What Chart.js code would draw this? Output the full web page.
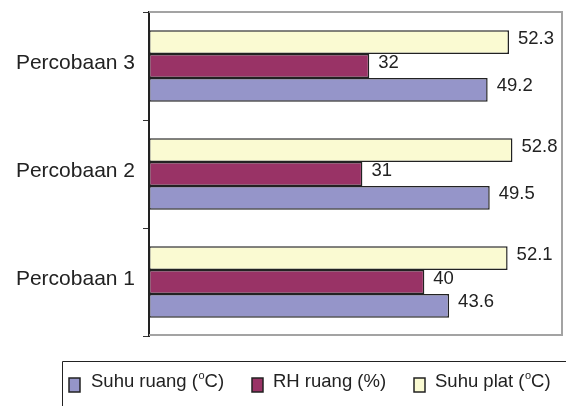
<!DOCTYPE html>
<html>
<head>
<meta charset="utf-8">
<script src="https://cdn.jsdelivr.net/npm/chart.js@4/dist/chart.umd.min.js"></script>
<style>
html,body{margin:0;padding:0;background:#fff;}
#wrap{width:566px;height:406px;position:relative;}
</style>
</head>
<body>
<div id="wrap"><canvas id="c" width="566" height="406"></canvas></div>
<script>
// categories listed top to bottom as shown
const categories = ['Percobaan 3', 'Percobaan 2', 'Percobaan 1'];
const suhuPlat  = [52.3, 52.8, 52.1];
const rhRuang   = [32, 31, 40];
const suhuRuang = [49.2, 49.5, 43.6];
const seriesLabels = ['Suhu plat (°C)', 'RH ruang (%)', 'Suhu ruang (°C)'];
// legend entries: [before superscript, superscript, after]
const legendOrder = [
  ['Suhu ruang (', 'o', 'C)'],
  ['RH ruang (%)', '', ''],
  ['Suhu plat (', 'o', 'C)']
];
const xMin = 0, xMax = 60;

const colRuang = '#9595c9';
const colRH = '#993366';
const colPlat = '#fafad2';
const FONT = "'Liberation Sans', Arial, Helvetica, sans-serif";

const borderPlugin = {
  id: 'plotBorder',
  beforeDatasetsDraw(chart) {
    const a = chart.chartArea, ctx = chart.ctx;
    ctx.save();
    ctx.strokeStyle = '#a3a3a3';
    ctx.lineWidth = 2;
    ctx.beginPath();
    ctx.moveTo(a.left, a.top);
    ctx.lineTo(a.right, a.top);
    ctx.lineTo(a.right, a.bottom - 1);
    ctx.lineTo(a.left, a.bottom - 1);
    ctx.stroke();
    ctx.restore();
  }
};

const valueLabels = {
  id: 'valueLabels',
  afterDatasetsDraw(chart) {
    const ctx = chart.ctx;
    ctx.save();
    ctx.font = '18.5px ' + FONT;
    ctx.fillStyle = '#222';
    ctx.textAlign = 'left';
    ctx.textBaseline = 'middle';
    chart.data.datasets.forEach((ds, i) => {
      chart.getDatasetMeta(i).data.forEach((el, j) => {
        ctx.fillText(String(ds.data[j]), el.x + 9, el.y - 3.5);
      });
    });
    ctx.restore();
  }
};

const legendPlugin = {
  id: 'customLegend',
  afterDraw(chart) {
    const ctx = chart.ctx;
    ctx.save();
    // frame (cropped on right and bottom)
    ctx.strokeStyle = '#222';
    ctx.lineWidth = 1;
    ctx.beginPath();
    ctx.moveTo(62.5, 406);
    ctx.lineTo(62.5, 361.5);
    ctx.lineTo(566, 361.5);
    ctx.stroke();
    const boxes = [69, 252, 414];
    const texts = [91, 273, 435];
    const cols = [colRuang, colRH, colPlat];
    legendOrder.forEach((parts, i) => {
      ctx.fillStyle = cols[i];
      ctx.fillRect(boxes[i], 378, 11, 14);
      ctx.strokeStyle = '#222';
      ctx.lineWidth = 1.5;
      ctx.strokeRect(boxes[i], 378, 11, 14);
      ctx.fillStyle = '#222';
      ctx.textBaseline = 'alphabetic';
      ctx.textAlign = 'left';
      ctx.font = '18.5px ' + FONT;
      let x = texts[i];
      ctx.fillText(parts[0], x, 387);
      x += ctx.measureText(parts[0]).width;
      if (parts[1]) {
        ctx.font = '11px ' + FONT;
        ctx.fillText(parts[1], x + 0.5, 379);
        x += ctx.measureText(parts[1]).width + 0.5;
        ctx.font = '18.5px ' + FONT;
      }
      if (parts[2]) ctx.fillText(parts[2], x, 387);
    });
    ctx.restore();
  }
};

new Chart(document.getElementById('c'), {
  type: 'bar',
  data: {
    labels: categories,
    datasets: [
      { label: seriesLabels[0], data: suhuPlat, backgroundColor: colPlat },
      { label: seriesLabels[1], data: rhRuang, backgroundColor: colRH },
      { label: seriesLabels[2], data: suhuRuang, backgroundColor: colRuang }
    ].map(d => Object.assign(d, {
      borderColor: '#222', borderWidth: 1.5, borderSkipped: false,
      categoryPercentage: 0.66, barPercentage: 1.0
    }))
  },
  options: {
    indexAxis: 'y',
    responsive: false,
    animation: false,
    devicePixelRatio: 1,
    layout: { padding: { top: 12, right: 4, bottom: 70, left: 0 } },
    plugins: { legend: { display: false }, tooltip: { enabled: false } },
    scales: {
      x: { display: false, min: xMin, max: xMax },
      y: {
        afterFit(s) { s.width = 149; s.paddingTop = 0; s.paddingBottom = 0; },
        grid: { drawOnChartArea: false, drawTicks: true, tickLength: 6, color: '#333', lineWidth: 1, offset: true },
        border: { display: true, color: '#222', width: 2 },
        ticks: { color: '#222', font: { family: FONT, size: 21 }, padding: 8, labelOffset: -3 }
      }
    }
  },
  plugins: [borderPlugin, valueLabels, legendPlugin]
});
</script>
</body>
</html>
